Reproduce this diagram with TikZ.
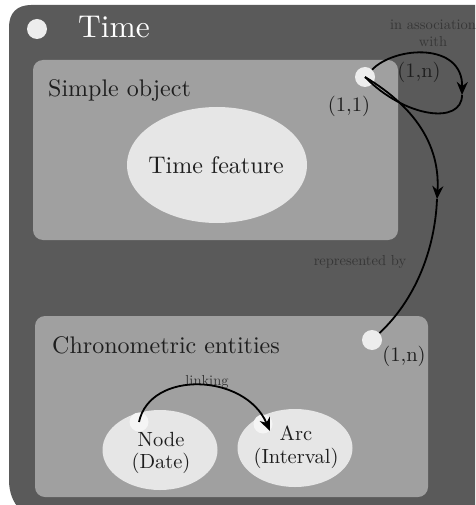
\documentclass[tikz,border=0pt]{standalone}
\usepackage{fontspec}
\setmainfont{lmroman10-regular.otf}
\usetikzlibrary{arrows.meta,shapes.geometric}
\definecolor{outerc}{HTML}{5A5A5A}
\definecolor{innerc}{HTML}{A0A0A0}
\definecolor{ellc}{HTML}{E6E6E6}
\definecolor{dotc}{HTML}{EDEDED}
\definecolor{darktext}{HTML}{1E1E1E}
\definecolor{smalltext}{HTML}{363636}
\tikzset{
  innerbox/.style={fill=innerc, rounded corners=10pt},
  ell/.style={ellipse, fill=ellc, inner sep=0pt},
  dotnode/.style={circle, fill=dotc, minimum size=#1, inner sep=0pt},
  bigtext/.style={text=darktext, font=\fontsize{24}{26}\selectfont, inner sep=0pt},
  midtext/.style={text=darktext, font=\fontsize{20.5}{22.5}\selectfont, inner sep=0pt, align=center},
  smalllbl/.style={text=smalltext, font=\fontsize{14.5}{17}\selectfont, inner sep=0pt, align=center},
  conn/.style={line width=1.8pt, black},
  tipped/.style={conn, -{Stealth[length=13pt, width=11pt]}},
}
\begin{document}
\begin{tikzpicture}[x=1pt, y=-1pt]
\path[use as bounding box] (0,0) rectangle (475,505);
\clip (0,0) rectangle (475,505);
\fill[white] (0,0) rectangle (475,505);
% outer box
\fill[outerc] (500,5) -- (31,5) .. controls (17,5) and (9,13) .. (9,27) -- (9,480)
  .. controls (9,505) and (25,520) .. (49,520) -- (500,520) -- cycle;
% title
\node[circle, fill=dotc, minimum size=20pt, inner sep=0pt] (tdot) at (37,29) {};
\node[anchor=base west, text=white, font=\fontsize{31.5}{34}\selectfont, inner sep=0pt] (title) at (78,38) {Time};
% simple object
\fill[innerbox] (33,60) rectangle (398,240);
\node[bigtext, anchor=base west] (so) at (48,97) {Simple object};
\node[ell, minimum width=180pt, minimum height=116pt] (tf) at (217,165) {};
\node[bigtext] (tftext) at (216,165) {Time feature};
\node[dotnode=20pt] (d1) at (365,77) {};
\node[midtext] (c11) at (349,106) {(1,1)};
\node[midtext] (c1n) at (419,72) {(1,n)};
\node[smalllbl] (assoc) at (433,33) {in association\\with};
% chronometric
\fill[innerbox] (35,316) rectangle (428,497);
\node[bigtext, anchor=base west] (ce) at (52,353) {Chronometric entities};
\node[dotnode=20pt] (d2) at (372,340) {};
\node[midtext] (c1n2) at (404,356) {(1,n)};
\node[smalllbl] (rep) at (360,262) {represented by};
\node[ell, minimum width=115pt, minimum height=80pt] (nodeE) at (160,450) {};
\node[ell, minimum width=115pt, minimum height=78pt] (arcE) at (295,448) {};
\node[midtext] (nodeT) at (161,453) {Node\\(Date)};
\node[midtext] (arcT) at (296,447) {Arc\\(Interval)};
\node[circle, fill=white!96!black, minimum size=19pt, inner sep=0pt] (nd) at (139,422) {};
\node[circle, fill=white!96!black, minimum size=19pt, inner sep=0pt] (ad) at (263,424) {};
\node[smalllbl] (link) at (207,382) {linking};
% connectors
\coordinate (lp) at (462,95);
\draw[tipped] (d1) .. controls (395,46) and (463,42) .. (lp);
\draw[conn] (lp) .. controls (462,125) and (405,118) .. (d1.center);
\coordinate (am) at (437,199);
\draw[tipped] (d1.center) .. controls (420,110) and (440,150) .. (am);
\draw[conn] (am) .. controls (435,250) and (415,300) .. (d2);
\draw[tipped] (nd.center) .. controls (150,370) and (245,373) .. (ad.south east);
\end{tikzpicture}
\end{document}
